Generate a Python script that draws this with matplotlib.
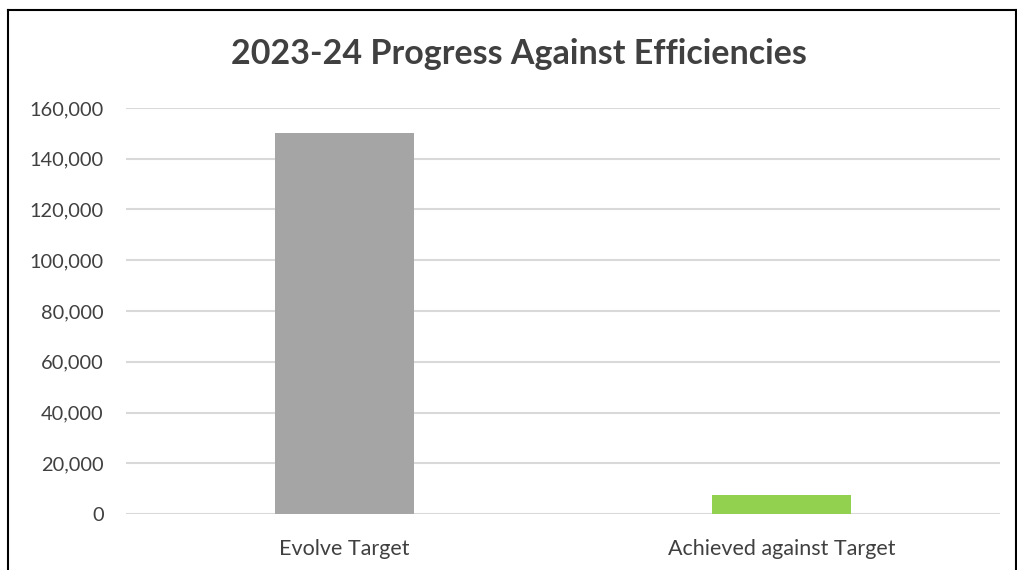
import matplotlib
matplotlib.use("Agg")
import matplotlib.pyplot as plt
from matplotlib.lines import Line2D
from matplotlib.ticker import FuncFormatter

categories = ["Evolve Target", "Achieved against Target"]
values = [150000, 7400]
bar_colors = ["#A5A5A5", "#92D050"]
yticks = [0, 20000, 40000, 60000, 80000, 100000, 120000, 140000, 160000]

plt.rcParams['font.family'] = ['Lato', 'DejaVu Sans']
text_color = "#404040"

fig = plt.figure(figsize=(10.17, 5.7), dpi=100)
ax = fig.add_axes([126/1017, 56/570, 874/1017, 406/570])

x = range(len(categories))
ax.bar(x, values, width=0.316, color=bar_colors, zorder=3)

ax.set_xlim(-0.5, 1.5)
ax.set_ylim(0, 160000)
ax.set_yticks(yticks)
ax.yaxis.set_major_formatter(FuncFormatter(lambda v, p: f"{int(v):,}"))
ax.set_xticks(list(x))
ax.set_xticklabels(categories)
ax.grid(axis='y', color="#D9D9D9", linewidth=1.5, zorder=0)
ax.set_axisbelow(True)
for s in ax.spines.values():
    s.set_visible(False)
ax.tick_params(length=0, colors=text_color)
ax.tick_params(axis='y', pad=16, labelsize=14.4)
ax.tick_params(axis='x', pad=18, labelsize=15.5)

fig.text(519/1017, 1 - 54/570, "2023-24 Progress Against Efficiencies",
         ha='center', va='center', fontsize=24.5, fontweight='bold', color=text_color)

# chart border
for xs, ys in [([7.5, 7.5], [0, 560.5]), ([7.5, 1016], [560.5, 560.5]), ([1016, 1016], [0, 560.5])]:
    fig.add_artist(Line2D([v/1017 for v in xs], [v/570 for v in ys],
                          transform=fig.transFigure, color="black", linewidth=1.5))

fig.savefig("out.png", dpi=100)
